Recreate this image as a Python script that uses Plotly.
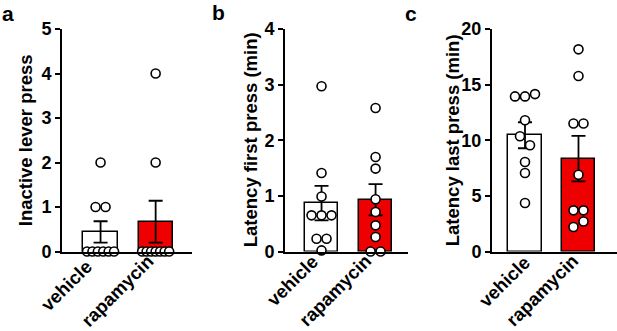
import plotly.graph_objects as go

# ---------------- data ----------------
groups = ["vehicle", "rapamycin"]

a_vehicle = [2, 1, 1, 0, 0, 0, 0, 0, 0]
a_rapamycin = [4, 2, 0, 0, 0, 0, 0, 0, 0]
a_mean = [0.44, 0.67]
a_sem = [0.24, 0.47]

b_vehicle = [2.97, 1.41, 0.99, 0.65, 0.65, 0.65, 0.23, 0.23, 0.02]
b_rapamycin = [2.58, 1.70, 1.49, 0.94, 0.71, 0.47, 0.26, 0.0, 0.0]
b_mean = [0.87, 0.93]
b_sem = [0.31, 0.28]

c_vehicle = [13.94, 13.94, 14.15, 11.8, 10.36, 9.55, 8.05, 7.06, 4.36]
c_rapamycin = [18.17, 15.77, 11.5, 11.5, 6.9, 3.7, 3.7, 2.2, 2.7]
c_mean = [10.45, 8.35]
c_sem = [1.17, 2.05]

y_titles = ["Inactive lever press", "Latency first press (min)", "Latency last press (min)"]
panel_letters = ["a", "b", "c"]
y_max = [5, 4, 20]
y_dtick = [1, 1, 5]

# ---------------- layout geometry (pixels) ----------------
W, H = 617, 331
panel_px = [(62, 192), (285, 408), (492, 617)]
xranges = [[-0.70, 1.66], [-0.676, 1.60], [-0.617, 1.72]]
y_top_px, y_bot_px = 29, 251.5
title_x_px = [25, 250, 452]
letter_pos = [(8, 13), (218, 12), (411, 14)]
# centres of the rotated category labels (vehicle, rapamycin) per panel
cat_label_px = [[(66.5, 285.5), (117.5, 290.5)],
                [(292.5, 280.5), (335, 290.5)],
                [(504.5, 281.5), (542, 290.5)]]

RED = "rgb(238,0,0)"
FONT = "Liberation Sans, Arial, sans-serif"


def fx(px):
    return px / W


def fy(py):
    return (H - py) / H


def spread(values, center, px_per_y, px_per_x, tol_px=10.0, step_px=10.0, max_span_px=27.0):
    """Deterministic scatter spreading: points closer than tol vertically are spread horizontally."""
    idx = sorted(range(len(values)), key=lambda i: values[i])
    clusters, cur = [], [idx[0]]
    for i in idx[1:]:
        if abs(values[i] - values[cur[-1]]) * px_per_y < tol_px:
            cur.append(i)
        else:
            clusters.append(cur)
            cur = [i]
    clusters.append(cur)
    xs = [center] * len(values)
    for cl in clusters:
        cl = sorted(cl)
        n = len(cl)
        if n == 1:
            continue
        step = min(step_px, max_span_px / (n - 1))
        for k, i in enumerate(cl):
            xs[i] = center + (k - (n - 1) / 2) * step / px_per_x
    return xs


datasets = [
    (a_vehicle, a_rapamycin, a_mean, a_sem),
    (b_vehicle, b_rapamycin, b_mean, b_sem),
    (c_vehicle, c_rapamycin, c_mean, c_sem),
]

fig = go.Figure()
layout = {}
annotations = []

for p, (veh, rap, mean, sem) in enumerate(datasets):
    sfx = "" if p == 0 else str(p + 1)
    xa, ya = "x" + sfx, "y" + sfx
    x0, x1 = panel_px[p]
    px_per_x = (x1 - x0) / (xranges[p][1] - xranges[p][0])
    px_per_y = (y_bot_px - y_top_px) / y_max[p]

    fig.add_trace(go.Bar(
        x=[0, 1], y=mean, width=0.62,
        marker=dict(color=["white", RED], line=dict(color="black", width=1.5)),
        error_y=dict(type="data", array=sem, visible=True, color="black", thickness=1.8, width=7),
        xaxis=xa, yaxis=ya, showlegend=False, hoverinfo="skip",
    ))
    for g, vals in enumerate([veh, rap]):
        xs = spread(vals, g, px_per_y, px_per_x)
        fig.add_trace(go.Scatter(
            x=xs, y=vals, mode="markers", cliponaxis=False,
            marker=dict(size=9, color="white", line=dict(color="black", width=1.6)),
            xaxis=xa, yaxis=ya, showlegend=False, hoverinfo="skip",
        ))

    layout["xaxis" + sfx] = dict(
        domain=[fx(x0), min(1.0, fx(x1))], range=xranges[p], anchor=ya, automargin=False,
        tickmode="array", tickvals=[0, 1], showticklabels=False,
        showline=True, linecolor="black", linewidth=2, ticks="",
        showgrid=False, zeroline=False,
    )
    layout["yaxis" + sfx] = dict(
        domain=[fy(y_bot_px), fy(y_top_px)], range=[0, y_max[p]], anchor=xa,
        automargin=False,
        tickmode="linear", tick0=0, dtick=y_dtick[p],
        showline=True, linecolor="black", linewidth=2,
        ticks="outside", ticklen=5, tickwidth=2, tickcolor="black",
        showgrid=False, zeroline=False,
        tickfont=dict(family=FONT, size=18, color="black", weight="bold"),
    )
    for g, name in enumerate(groups):
        cx, cy = cat_label_px[p][g]
        annotations.append(dict(
            text=name, x=fx(cx), y=fy(cy),
            xref="paper", yref="paper", xanchor="center", yanchor="middle",
            textangle=-45, showarrow=False, borderpad=0,
            font=dict(family=FONT, size=18.5, color="black", weight="bold"),
        ))
    annotations.append(dict(
        text=y_titles[p], x=fx(title_x_px[p]), y=fy((y_top_px + y_bot_px) / 2),
        xref="paper", yref="paper", xanchor="center", yanchor="middle",
        textangle=-90, showarrow=False,
        font=dict(family=FONT, size=18.5, color="black", weight="bold"),
    ))
    lx, ly = letter_pos[p]
    annotations.append(dict(
        text=panel_letters[p], x=fx(lx), y=fy(ly),
        xref="paper", yref="paper", xanchor="center", yanchor="middle",
        showarrow=False,
        font=dict(family=FONT, size=21, color="black", weight="bold"),
    ))

fig.update_layout(
    width=W, height=H,
    margin=dict(l=0, r=0, t=0, b=0, autoexpand=False),
    paper_bgcolor="white", plot_bgcolor="white",
    annotations=annotations,
    bargap=0,
    **layout,
)

fig.write_html("out.html", config={"displayModeBar": False},
               post_script="document.body.style.margin='0px';")
